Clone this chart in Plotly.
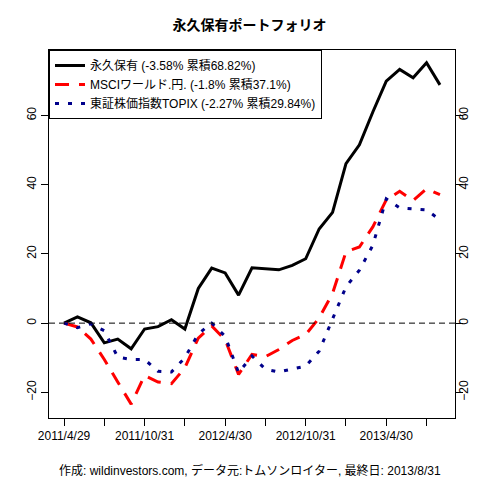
import plotly.graph_objects as go

# 月末日付 (2011/4 - 2013/8)
dates = ["2011/4/29", "2011/5/31", "2011/6/30", "2011/7/29", "2011/8/31", "2011/9/30",
         "2011/10/31", "2011/11/30", "2011/12/30", "2012/1/31", "2012/2/29", "2012/3/30",
         "2012/4/30", "2012/5/31", "2012/6/29", "2012/7/31", "2012/8/31", "2012/9/28",
         "2012/10/31", "2012/11/30", "2012/12/31", "2013/1/31", "2013/2/28", "2013/3/29",
         "2013/4/30", "2013/5/31", "2013/6/28", "2013/7/31", "2013/8/30"]

# 累積リターン (%)
eikyu = [0, 1.8, 0.1, -5.7, -4.6, -7.4, -1.7, -1.0, 1.0, -1.7, 10.0, 15.9, 14.5, 8.1,
         16.0, 15.7, 15.4, 16.7, 18.6, 27.2, 32.0, 46.1, 51.5, 61.0, 69.9, 73.3, 70.9,
         75.2, 68.82]
msci = [0, -1.1, -4.6, -10.5, -17.0, -23.4, -15.1, -17.0, -17.5, -12.9, -4.3, -0.8,
        -4.8, -14.8, -9.0, -9.7, -7.6, -5.0, -3.3, 1.5, 8.6, 20.6, 22.0, 27.8, 35.6,
        38.1, 35.4, 38.8, 37.1]
topix = [0, -1.3, -0.2, -2.2, -9.8, -10.5, -10.5, -13.9, -14.1, -10.0, -3.1, 0.0,
         -3.8, -14.3, -9.5, -13.3, -14.1, -13.3, -12.4, -8.1, 1.3, 10.5, 15.3, 22.5,
         35.9, 33.3, 33.0, 32.7, 29.84]

names = ["永久保有 (-3.58% 累積68.82%)",
         "MSCIワールド.円. (-1.8% 累積37.1%)",
         "東証株価指数TOPIX (-2.27% 累積29.84%)"]

tick_every = 3
label_every = 6

font = "Liberation Sans, Arial, Noto Sans CJK JP"

fig = go.Figure()
fig.add_scatter(x=dates, y=eikyu, mode="lines", name=names[0],
                line=dict(color="black", width=3))
fig.add_scatter(x=dates, y=msci, mode="lines", name=names[1],
                line=dict(color="#FF0000", width=3, dash="14px,10px"))
fig.add_scatter(x=dates, y=topix, mode="lines", name=names[2],
                line=dict(color="#00008B", width=3, dash="4px,9px"))
# 右側の軸ラベル用 (非表示)
fig.add_scatter(x=dates, y=eikyu, mode="lines", yaxis="y2", showlegend=False,
                hoverinfo="skip", line=dict(color="rgba(0,0,0,0)", width=0))

fig.add_hline(y=0, line=dict(color="black", width=1, dash="6px,4px"))

tickvals = dates[::tick_every]
ticktext = [d if i % label_every == 0 else "" for i, d in
            zip(range(0, len(dates), tick_every), tickvals)]

yax = dict(range=[-27.4, 78.9], tickvals=[-20, 0, 20, 40, 60], tickangle=-90,
           showgrid=False, zeroline=False, automargin=False,
           tickfont=dict(size=12, color="black", family=font))

fig.update_layout(
    width=480, height=480,
    margin=dict(l=49, r=25, t=50, b=62),
    paper_bgcolor="white", plot_bgcolor="white",
    font=dict(family=font, color="black"),
    title=dict(text="<b>永久保有ポートフォリオ</b>", x=0.52, xanchor="center",
               y=1 - 25 / 480, yanchor="middle", font=dict(size=14)),
    xaxis=dict(type="category", range=[-1.12, len(dates) - 1 + 1.12],
               tickvals=tickvals, ticktext=ticktext, ticks="outside", ticklen=7,
               tickcolor="black", showgrid=False, zeroline=False, automargin=False,
               showline=True, linecolor="black", linewidth=1, mirror=True,
               tickfont=dict(size=12)),
    yaxis=dict(**yax, ticks="outside", ticklen=7, tickcolor="black",
               showline=True, linecolor="black", linewidth=1, mirror="allticks"),
    yaxis2=dict(**yax, overlaying="y", side="right", showline=False, ticks=""),
    legend=dict(x=0, y=1, xanchor="left", yanchor="top", bgcolor="white",
                bordercolor="black", borderwidth=1, font=dict(size=12),
                tracegroupgap=0, itemwidth=30),
    showlegend=True,
)

fig.add_annotation(text="作成: wildinvestors.com, データ元:トムソンロイター, 最終日: 2013/8/31",
                   xref="paper", yref="paper", x=0.495, y=0, yshift=-52,
                   xanchor="center", yanchor="middle", showarrow=False,
                   font=dict(size=12))

# ページの余白を消す
fig.write_html("out.html", config={"displayModeBar": False},
               post_script="document.body.style.margin='0';")
